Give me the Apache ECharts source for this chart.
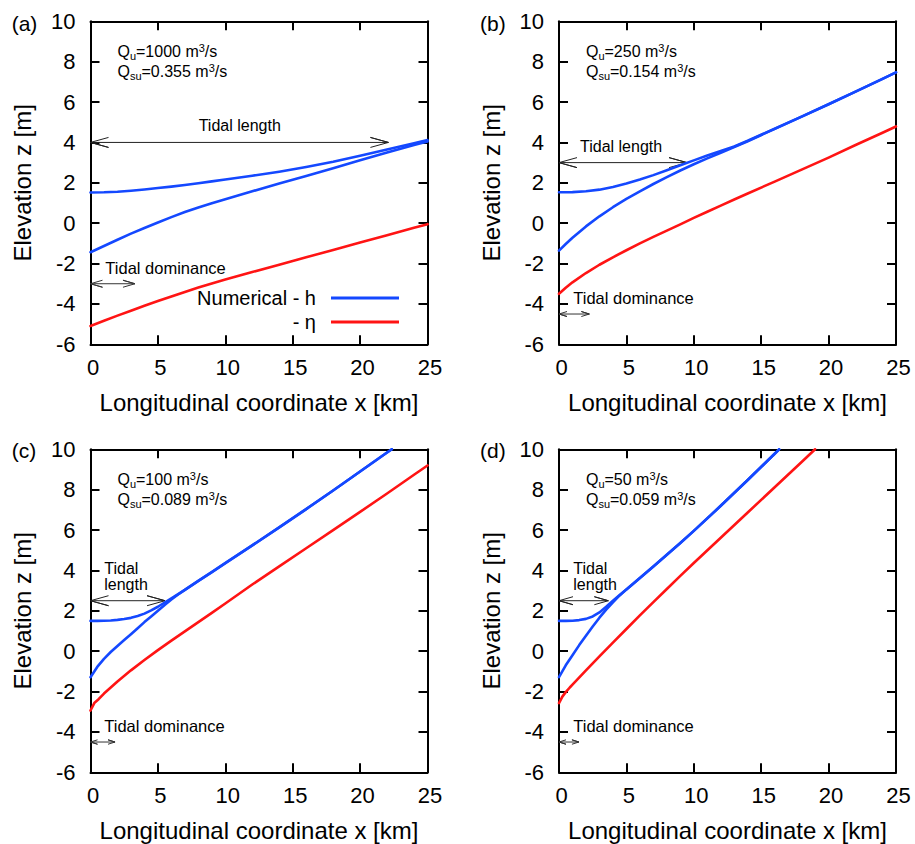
<!DOCTYPE html>
<html><head><meta charset="utf-8">
<script src="https://cdn.jsdelivr.net/npm/echarts@6/dist/echarts.min.js"></script>
<style>html,body{margin:0;padding:0;background:#fff}#c{width:915px;height:844px}</style>
</head><body><div id="c"></div>
<script>
// ---------------- DATA ----------------
// Panel (a): Qu = 1000 m3/s
const xA      = [0,1,2,3,4,5,6,7,8,9,10,12,14,16,18,20,22,24,25];
const hUpperA = [1.52,1.53,1.56,1.61,1.67,1.74,1.81,1.89,1.98,2.07,2.16,2.35,2.55,2.78,3.04,3.34,3.65,3.96,4.12];
const hLowerA = [-1.44,-1.13,-0.82,-0.52,-0.24,0.03,0.30,0.55,0.78,0.99,1.19,1.58,1.96,2.34,2.72,3.12,3.50,3.87,4.05];
const etaA    = [-5.09,-4.83,-4.58,-4.335,-4.095,-3.86,-3.63,-3.405,-3.19,-2.985,-2.79,-2.42,-2.055,-1.69,-1.325,-0.96,-0.595,-0.23,-0.05];

// Panel (b): Qu = 250 m3/s
const xB      = [0,0.5,1,2,3,4,5,6,7,8,9,10,11,12,13,14,16,18,20,22,24,25];
const hUpperB = [1.53,1.53,1.54,1.58,1.66,1.79,1.96,2.16,2.38,2.62,2.87,3.11,3.35,3.57,3.80,4.08,4.68,5.28,5.89,6.52,7.15,7.47];
const hLowerB = [-1.36,-1.03,-0.72,-0.16,0.34,0.79,1.20,1.58,1.94,2.28,2.61,2.92,3.21,3.49,3.77,4.06,4.67,5.28,5.89,6.52,7.15,7.47];
const etaB    = [-3.50,-3.20,-2.93,-2.47,-2.06,-1.69,-1.34,-1.00,-0.68,-0.37,-0.06,0.26,0.565,0.87,1.17,1.47,2.06,2.65,3.25,3.87,4.48,4.79];

// Panel (c): Qu = 100 m3/s
const xC      = [0,0.5,1,1.5,2,2.5,3,3.5,4,4.5,5,5.5,6,6.5,7,8,9,10,12,14,16,18,20,22,22.35];
const hUpperC = [1.50,1.50,1.51,1.52,1.55,1.59,1.65,1.74,1.86,2.02,2.20,2.41,2.62,2.83,3.04,3.48,3.92,4.36,5.24,6.13,7.04,7.96,8.90,9.84,10.0];
const hLowerC = [-1.29,-0.78,-0.38,-0.04,0.26,0.55,0.84,1.14,1.44,1.72,2.00,2.29,2.56,2.81,3.04,3.48,3.92,4.36,5.24,6.13,7.04,7.96,8.90,9.84,10.0];
const xCeta   = [0,0.3,0.6,1,2,3,4,5,6,7,8,9,10,12,14,16,18,20,22,24,25];
const etaC    = [-2.94,-2.55,-2.38,-2.10,-1.50,-0.95,-0.44,0.05,0.52,0.98,1.44,1.90,2.36,3.30,4.20,5.10,6.00,6.90,7.81,8.74,9.20];

// Panel (d): Qu = 50 m3/s
const xD      = [0,0.5,1,1.5,2,2.5,3,3.5,4,4.5,5,6,7,8,9,10,12,14,16,16.33];
const hUpperD = [1.50,1.50,1.51,1.54,1.60,1.72,1.92,2.20,2.50,2.78,3.06,3.63,4.20,4.78,5.36,5.96,7.20,8.48,9.78,10.0];
const hLowerD = [-1.29,-0.70,-0.20,0.30,0.77,1.22,1.66,2.06,2.42,2.76,3.06,3.63,4.20,4.78,5.36,5.96,7.20,8.48,9.78,10.0];
const xDeta   = [0,0.25,0.5,0.8,1,2,3,4,5,6,7,8,9,10,12,14,16,18,19];
const etaD    = [-2.57,-2.25,-2.03,-1.80,-1.66,-0.95,-0.26,0.42,1.10,1.77,2.43,3.08,3.73,4.37,5.62,6.87,8.12,9.37,10.0];

// Annotations (data values)
const panelTags      = ['(a)','(b)','(c)','(d)'];
const qU             = ['1000','250','100','50'];
const qSu            = ['0.355','0.154','0.089','0.059'];
const tidalLengthEnd = [22.1, 9.5, 5.53, 3.66];   // km
const tidalLengthZ   = [4, 3, 2.5, 2.5];          // m
const tidalDomEnd    = [3.3, 2.25, 1.82, 1.48];   // km
const tidalDomZ      = [-3, -4.5, -4.5, -4.5];    // m
const xTicks = {min:0, max:25, step:5};
const yTicks = {min:-6, max:10, step:2};

// ---------------- LAYOUT / STYLE ----------------
const FONT = '"Liberation Sans", Arial, Helvetica, sans-serif';
const BLUE = '#1448ff', RED = '#ff1414', INK = '#000';
const GW = 337, GH = 323;
const grids = [[90.5,21.3],[559,21.3],[90.5,449.3],[559,449.3]];
function px(p, x, z){ return [grids[p][0] + (x - xTicks.min)/(xTicks.max - xTicks.min)*GW,
                              grids[p][1] + (yTicks.max - z)/(yTicks.max - yTicks.min)*GH]; }
const kmPerPx = (xTicks.max - xTicks.min)/GW, zPerPx = (yTicks.max - yTicks.min)/GH;
function zip(xs, ys){ return xs.map((x,i)=>[x, ys[i]]); }
function arrow(x0, x1, z, hlPx, hwPx){
  const hl = hlPx*kmPerPx, hw = hwPx*zPerPx;
  return [[x0+hl, z+hw],[x0, z],[x0+hl, z-hw],[x0, z],[x1, z],[x1-hl, z+hw],[x1, z],[x1-hl, z-hw]];
}
const lenHead = [[18,5],[18,5],[18,5],[14,4]];
const domHead = [[12,3.5],[8,2.5],[7,2.2],[7,2.2]];

const panels = [
  {x:xA, up:hUpperA, lo:hLowerA, xe:xA,    eta:etaA},
  {x:xB, up:hUpperB, lo:hLowerB, xe:xB,    eta:etaB},
  {x:xC, up:hUpperC, lo:hLowerC, xe:xCeta, eta:etaC},
  {x:xD, up:hUpperD, lo:hLowerD, xe:xDeta, eta:etaD}
];

const grid = [], xAxis = [], yAxis = [], series = [], graphic = [];
const axCommon = (i)=>({
  gridIndex:i, type:'value',
  axisLine:{show:true, onZero:false, lineStyle:{color:INK, width:2}},
  axisTick:{show:true, inside:true, length:9, lineStyle:{color:INK, width:2}},
  splitLine:{show:false}
});
const lblStyle = {fontSize:22, color:INK, fontFamily:FONT};
const nameStyle = {fontSize:24, color:INK, fontFamily:FONT};
const rich = {
  m:{fontSize:16, lineHeight:20, fontFamily:FONT, color:INK, verticalAlign:'middle'},
  s:{fontSize:11, fontFamily:FONT, color:INK, verticalAlign:'middle', padding:[8,0,0,0]},
  p:{fontSize:11, fontFamily:FONT, color:INK, verticalAlign:'middle', padding:[0,0,8,0]}
};

panels.forEach((P, i)=>{
  grid.push({left:grids[i][0], top:grids[i][1], width:GW, height:GH});
  xAxis.push(Object.assign(axCommon(i), {min:xTicks.min, max:xTicks.max, interval:xTicks.step, position:'bottom',
    axisLabel:Object.assign({margin:12, padding:[0,0,0,5]}, lblStyle),
    name:'Longitudinal coordinate x [km]', nameLocation:'middle', nameGap:46, nameTextStyle:nameStyle}));
  xAxis.push(Object.assign(axCommon(i), {min:xTicks.min, max:xTicks.max, interval:xTicks.step, position:'top',
    axisLabel:{show:false}}));
  yAxis.push(Object.assign(axCommon(i), {min:yTicks.min, max:yTicks.max, interval:yTicks.step, position:'left',
    axisLabel:Object.assign({margin:15}, lblStyle),
    name:'Elevation z [m]', nameLocation:'middle', nameGap:56, nameTextStyle:nameStyle}));
  yAxis.push(Object.assign(axCommon(i), {min:yTicks.min, max:yTicks.max, interval:yTicks.step, position:'right',
    axisLabel:{show:false}}));

  const base = {type:'line', xAxisIndex:2*i, yAxisIndex:2*i, showSymbol:false, symbol:'none',
                clip:true, smooth:false, silent:true, z:3};
  const ls = (c)=>({color:c, width:2.6, join:'round', cap:'round'});
  series.push(Object.assign({}, base, {name:'Numerical - h', data:zip(P.x, P.up), lineStyle:ls(BLUE), itemStyle:{color:BLUE}}));
  series.push(Object.assign({}, base, {name:'Numerical - h', data:zip(P.x, P.lo), lineStyle:ls(BLUE), itemStyle:{color:BLUE}}));
  series.push(Object.assign({}, base, {name:'- η', data:zip(P.xe, P.eta), lineStyle:ls(RED), itemStyle:{color:RED}}));
  // arrows
  const ab = {type:'line', xAxisIndex:2*i, yAxisIndex:2*i, showSymbol:false, symbol:'none', silent:true, clip:false, z:2};
  series.push(Object.assign({}, ab, {name:'tidal length', data:arrow(0, tidalLengthEnd[i], tidalLengthZ[i], lenHead[i][0], lenHead[i][1]),
    lineStyle:{color:'#222', width:1}}));
  series.push(Object.assign({}, ab, {name:'tidal dominance', data:arrow(0, tidalDomEnd[i], tidalDomZ[i], domHead[i][0], domHead[i][1]),
    lineStyle:{color:'#333', width:1}}));

  // panel tag
  const tagPos = [[11.7,23.3],[480,23.3],[11.7,450],[480,450]][i];
  graphic.push({type:'text', x:tagPos[0], y:tagPos[1], silent:true,
    style:{text:panelTags[i], fontSize:21, fontFamily:FONT, fill:INK, align:'left', verticalAlign:'middle'}});

  // Q text (two lines, one element)
  const q = px(i, 2.0, 8.0);
  graphic.push({type:'text', x:q[0], y:q[1], silent:true,
    style:{text:'{m|Q}{s|u}{m|=' + qU[i] + ' m}{p|3}{m|/s}\n{m|Q}{s|su}{m|=' + qSu[i] + ' m}{p|3}{m|/s}',
           rich:rich, align:'left', verticalAlign:'middle'}});

  // Tidal length label
  const tl = [[11.07,4.82,'center','Tidal length'],[1.56,3.8,'left','Tidal length'],
              [1.02,3.69,'left','Tidal\nlength'],[1.06,3.69,'left','Tidal\nlength']][i];
  const tlp = px(i, tl[0], tl[1]);
  graphic.push({type:'text', x:tlp[0], y:tlp[1], silent:true,
    style:{text:tl[3], fontSize:16, lineHeight:16.5, fontFamily:FONT, fill:INK, align:tl[2], verticalAlign:'middle'}});
  // Tidal dominance label
  const td = [[1.1,-2.2],[1.06,-3.69],[1.02,-3.73],[1.06,-3.73]][i];
  const tdp = px(i, td[0], td[1]);
  graphic.push({type:'text', x:tdp[0], y:tdp[1], silent:true,
    style:{text:'Tidal dominance', fontSize:16.5, fontFamily:FONT, fill:INK, align:'left', verticalAlign:'middle'}});
});

const legendCommon = {orient:'vertical', align:'right', icon:'rect', itemWidth:68, itemHeight:3,
  selectedMode:false, padding:0, textStyle:{fontSize:20, lineHeight:20, fontFamily:FONT, color:INK, padding:[0,10,0,0]}};
const legend = [
  Object.assign({}, legendCommon, {data:['Numerical - h'], right:915-399, top:288}),
  Object.assign({}, legendCommon, {data:['- η'], right:915-399, top:312})
];

const chart = echarts.init(document.getElementById('c'), null, {renderer:'svg'});
chart.setOption({
  animation:false, backgroundColor:'#fff',
  textStyle:{fontFamily:FONT},
  grid, xAxis, yAxis, series, legend, graphic
});
</script></body></html>
